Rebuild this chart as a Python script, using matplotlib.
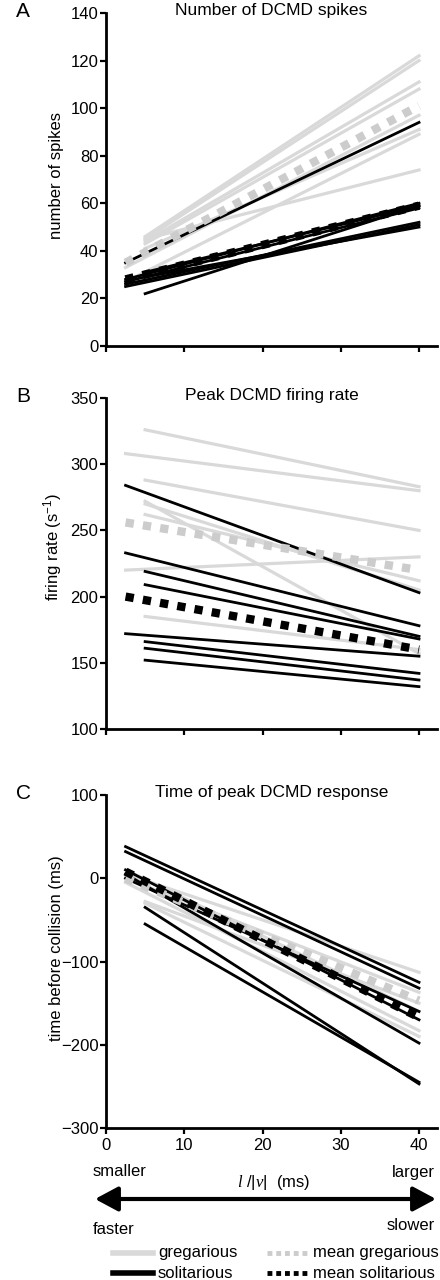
import numpy as np
import matplotlib.pyplot as plt
from matplotlib.lines import Line2D
from matplotlib.patches import FancyArrowPatch

plt.rcParams['font.family'] = 'Liberation Sans'
plt.rcParams['mathtext.fontset'] = 'custom'
plt.rcParams['mathtext.rm'] = 'Liberation Sans'
plt.rcParams['mathtext.it'] = 'Liberation Serif:italic'
plt.rcParams['mathtext.default'] = 'regular'

# each line runs from its start l/|v| (ms) to 40 ms
x_end = 40

# A: number of DCMD spikes
a_greg_x0 = [5, 5, 5, 5, 5, 5, 2.5, 2.5]
a_greg_y0 = [46, 45, 44, 43, 45, 41, 27, 33]
a_greg_y1 = [122, 120, 111, 108, 74, 91, 89, 97]
a_sol_x0 = [2.5, 2.5, 2.5, 2.5, 2.5, 5, 5, 5]
a_sol_y0 = [35, 28, 27, 25, 26, 31, 29, 22]
a_sol_y1 = [94, 60, 58, 51, 52, 59, 50, 59]
a_mean_greg = [35, 101]
a_mean_sol = [28, 59]

# B: peak DCMD firing rate
b_greg_x0 = [5, 2.5, 5, 5, 5, 5, 2.5, 5]
b_greg_y0 = [326, 308, 288, 272, 270, 262, 220, 185]
b_greg_y1 = [283, 280, 250, 157, 205, 212, 230, 160]
b_sol_x0 = [2.5, 2.5, 5, 5, 2.5, 5, 5, 5]
b_sol_y0 = [284, 233, 219, 209, 172, 166, 161, 152]
b_sol_y1 = [203, 178, 170, 168, 155, 142, 137, 132]
b_mean_greg = [256, 220]
b_mean_sol = [200, 160]

# C: time of peak DCMD response
c_greg_x0 = [2.5, 2.5, 5, 2.5, 5, 2.5]
c_greg_y0 = [5, 0, -28, -5, -30, 10]
c_greg_y1 = [-113, -137, -150, -183, -190, -160]
c_sol_x0 = [2.5, 2.5, 2.5, 2.5, 5, 5, 2.5]
c_sol_y0 = [38, 32, 10, 5, -35, -55, 0]
c_sol_y1 = [-125, -132, -170, -198, -247, -245, -160]
c_mean_greg = [0, -147]
c_mean_sol = [8, -167]

mean_x0 = 2.5
xticks = [0, 10, 20, 30, 40]

GREY = '#d9d9d9'
MGREY = '#cccccc'
W, H = 440, 1280


def fx(px):
    return px / W


def fy(py):
    return 1 - py / H


fig = plt.figure(figsize=(4.4, 12.8), dpi=100)


def panel(rect, letter, title, ylabel, ylim, yticks, gx0, gy0, gy1, sx0, sy0, sy1,
          mg, ms, ylab_y, xlabels=False):
    ax = fig.add_axes(rect)
    for x0, y0, y1 in zip(gx0, gy0, gy1):
        ax.plot([x0, x_end], [y0, y1], color=GREY, lw=2.3, zorder=2)
    for x0, y0, y1 in zip(sx0, sy0, sy1):
        ax.plot([x0, x_end], [y0, y1], color='black', lw=2.0, zorder=3)
    ax.plot([mean_x0, x_end], mg, color=MGREY, lw=6, ls=(0, (1, 1.1)),
            solid_capstyle='butt', dash_capstyle='butt', zorder=4)
    ax.plot([mean_x0, x_end], ms, color='black', lw=6, ls=(0, (1, 1.1)),
            solid_capstyle='butt', dash_capstyle='butt', zorder=5)
    ax.set_xlim(0, 42.3)
    ax.set_ylim(*ylim)
    ax.set_xticks(xticks)
    ax.set_yticks(yticks)
    for s in ['top', 'right']:
        ax.spines[s].set_visible(False)
    for s in ['left', 'bottom']:
        ax.spines[s].set_linewidth(2)
    ax.tick_params(direction='out', length=4, width=1.6, labelsize=12, pad=1.5)
    ax.tick_params(axis='x', pad=3)
    if not xlabels:
        ax.tick_params(labelbottom=False)
    ax.set_title(title, fontsize=12.5, y=0.995, pad=0)
    ax.set_ylabel(ylabel, fontsize=12)
    ax.yaxis.set_label_coords(-0.127, ylab_y)
    fig.text(rect[0] - 0.205, rect[1] + rect[3] + 0.001, letter, fontsize=15,
             ha='left', va='center')
    return ax


panel([fx(106), fy(346), 331 / W, 333 / H], 'A', 'Number of DCMD spikes',
      'number of spikes', (0, 140), range(0, 141, 20),
      a_greg_x0, a_greg_y0, a_greg_y1, a_sol_x0, a_sol_y0, a_sol_y1,
      a_mean_greg, a_mean_sol, 0.513)
panel([fx(106), fy(729), 331 / W, 331 / H], 'B', 'Peak DCMD firing rate',
      'firing rate (s$^{-1}$)', (100, 350), range(100, 351, 50),
      b_greg_x0, b_greg_y0, b_greg_y1, b_sol_x0, b_sol_y0, b_sol_y1,
      b_mean_greg, b_mean_sol, 0.55)
panel([fx(106), fy(1128), 331 / W, 333 / H], 'C', 'Time of peak DCMD response',
      'time before collision (ms)', (-300, 100), range(-300, 101, 100),
      c_greg_x0, c_greg_y0, c_greg_y1, c_sol_x0, c_sol_y0, c_sol_y1,
      c_mean_greg, c_mean_sol, 0.54, xlabels=True)

# speed axis annotation
fig.text(fx(93), fy(1172), 'smaller', fontsize=12, ha='left', va='center')
fig.text(fx(435), fy(1173), 'larger', fontsize=12, ha='right', va='center')
fig.text(fx(274), fy(1182), '$\\mathit{l}$ /|$\\mathit{v}$|  (ms)', fontsize=12,
         ha='center', va='center')
fig.text(fx(93), fy(1230), 'faster', fontsize=12, ha='left', va='center')
fig.text(fx(435), fy(1225), 'slower', fontsize=12, ha='right', va='center')
fig.add_artist(FancyArrowPatch((fx(95), fy(1199)), (fx(436), fy(1199)),
                               transform=fig.transFigure,
                               arrowstyle='<|-|>,head_length=1.4,head_width=0.75',
                               mutation_scale=10, lw=3, color='black',
                               shrinkA=0, shrinkB=0))

# legend
legend_rows = [
    (1253, 113, GREY, 4, 'gregarious', 267, MGREY, 'mean gregarious'),
    (1273, 113, 'black', 4, 'solitarious', 267, 'black', 'mean solitarious'),
]
for py, hx, c1, lw1, lab1, hx2, c2, lab2 in legend_rows:
    fig.add_artist(Line2D([fx(hx), fx(hx + 40)], [fy(py), fy(py)], color=c1, lw=lw1,
                          transform=fig.transFigure))
    fig.text(fx(hx + 45), fy(py), lab1, fontsize=12, ha='left', va='center')
    fig.add_artist(Line2D([fx(hx2), fx(hx2 + 40)], [fy(py), fy(py)], color=c2, lw=3.5,
                          ls=(0, (1, 0.8)), dash_capstyle='butt',
                          transform=fig.transFigure))
    fig.text(fx(hx2 + 46), fy(py), lab2, fontsize=12, ha='left', va='center')

fig.savefig('out.png', dpi=100)
